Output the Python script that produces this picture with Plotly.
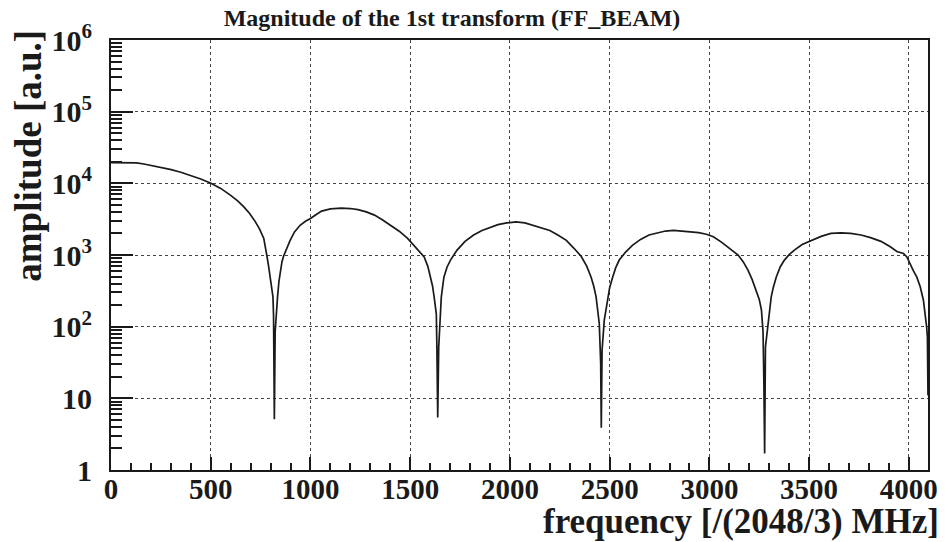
import plotly.graph_objects as go

# Spectrum magnitude of the first transform, sampled along the frequency axis
freq = [0, 64, 128, 165, 202, 250, 302, 350, 401, 450, 501, 550, 600, 635, 666,
        695, 724, 745, 766, 775, 782, 790, 797, 804, 812, 815, 819, 823, 829,
        835, 842, 849, 857, 865, 880, 898, 920, 948, 975, 998, 1031, 1056, 1100,
        1155, 1200, 1238, 1280, 1321, 1360, 1404, 1445, 1487, 1537, 1555, 1570,
        1588, 1603, 1612, 1620, 1631, 1634, 1638, 1643, 1650, 1656, 1669, 1685,
        1702, 1735, 1775, 1818, 1860, 1901, 1940, 1984, 2030, 2075, 2117, 2160,
        2200, 2240, 2283, 2320, 2357, 2385, 2407, 2420, 2432, 2448, 2455, 2458,
        2462, 2473, 2490, 2500, 2515, 2530, 2548, 2580, 2614, 2655, 2697, 2740,
        2780, 2820, 2863, 2905, 2946, 2985, 3020, 3062, 3100, 3144, 3170, 3194,
        3215, 3236, 3250, 3261, 3269, 3273, 3277, 3281, 3293, 3300, 3310, 3320,
        3335, 3355, 3376, 3400, 3426, 3465, 3509, 3560, 3609, 3660, 3708, 3760,
        3808, 3860, 3907, 3940, 3973, 3990, 4023, 4040, 4057, 4073, 4089, 4093,
        4096]
amplitude = [19400, 19400, 19300, 18600, 17800, 16700, 15500, 14300, 12900,
             11500, 10000, 8500, 6800, 5700, 4700,
             3800, 2900, 2300, 1700, 1300, 960, 700, 530, 400, 260, 140, 5.1,
             85, 180,
             260, 430, 610, 800, 960, 1250, 1600, 2100, 2600, 2950, 3200, 3700,
             4100, 4400,
             4500, 4450, 4300, 4000, 3600, 3100, 2600, 2150, 1700, 1200, 1050,
             940,
             700, 490, 370, 260, 150, 49, 5.4, 52, 160, 260, 490, 680,
             850, 1170, 1550, 1900, 2200, 2450, 2650, 2800, 2900, 2800, 2600,
             2400,
             2200, 1900, 1600, 1250, 960, 700, 490, 370, 260, 110, 31, 3.9,
             47, 123, 260, 350, 490, 660, 850, 1100, 1360, 1650, 1900, 2050,
             2160, 2200, 2160, 2100, 2050, 1950, 1800, 1500, 1250, 1000, 800,
             610,
             450, 320, 240, 170, 85, 18, 1.7, 52, 110, 170, 260, 350,
             490, 680, 850, 1010, 1170, 1400, 1600, 1820, 2000, 2030, 2000,
             1900,
             1750, 1550, 1300, 1120, 1050, 940, 600, 490, 360, 234, 100, 72,
             11]

x_ticks = [0, 500, 1000, 1500, 2000, 2500, 3000, 3500, 4000]
y_ticks = [1, 10, 100, 1000, 10000, 100000, 1000000]
y_tick_text = ["1", "10", "10<sup>2</sup>", "10<sup>3</sup>", "10<sup>4</sup>",
               "10<sup>5</sup>", "10<sup>6</sup>"]

SERIF = "Liberation Serif"
INK = "#1a1a1a"

fig = go.Figure()
fig.add_trace(go.Scatter(
    x=freq, y=amplitude, mode="lines",
    line=dict(color=INK, width=1.7),
    hoverinfo="x+y", showlegend=False,
))

fig.update_layout(
    width=950, height=542,
    margin=dict(l=111, r=15, t=40, b=72),
    paper_bgcolor="white", plot_bgcolor="white",
    font=dict(family=SERIF, color=INK),
    title=dict(text="<b>Magnitude of the 1st transform (FF_BEAM)</b>",
               x=452 / 950, xanchor="center", y=1 - 18 / 542, yanchor="middle",
               font=dict(family=SERIF, size=24, color=INK)),
)

fig.update_xaxes(
    range=[0, 4096], tickvals=x_ticks, ticktext=[str(v) for v in x_ticks],
    ticks="inside", ticklen=13, tickwidth=1.5, tickcolor=INK,
    minor=dict(dtick=100, tick0=0, ticks="inside", ticklen=7, tickwidth=1.5,
               tickcolor=INK, showgrid=False),
    showline=True, linewidth=2, linecolor=INK, mirror=True,
    showgrid=True, gridcolor="#444", griddash="dot", gridwidth=1,
    zeroline=False,
    tickfont=dict(family=SERIF, size=29, color=INK, weight="bold"),
    ticklabelstandoff=-8,
)

fig.update_yaxes(
    type="log", range=[0, 6], tickvals=y_ticks, ticktext=y_tick_text,
    ticks="inside", ticklen=22, tickwidth=1.5, tickcolor=INK,
    minor=dict(dtick="D1", ticks="inside", ticklen=11, tickwidth=1.5,
               tickcolor=INK, showgrid=False),
    showline=True, linewidth=2, linecolor=INK, mirror=True,
    showgrid=True, gridcolor="#444", griddash="dot", gridwidth=1,
    zeroline=False,
    tickfont=dict(family=SERIF, size=30, color=INK, weight="bold"),
    ticklabelstandoff=11,
)

# Axis titles placed as in a ROOT canvas: x title right-aligned, y title rotated
fig.add_annotation(
    text="<b>frequency [/(2048/3) MHz]</b>", xref="paper", yref="paper",
    x=1.016, xanchor="right", y=-(521 - 470) / 430, yanchor="middle",
    showarrow=False, font=dict(family=SERIF, size=35, color=INK),
)
fig.add_annotation(
    text="<b>amplitude [a.u.]</b>", xref="paper", yref="paper",
    x=(27 - 111) / 824, xanchor="center", y=1 - (156 - 40) / 430, yanchor="middle",
    textangle=-90, showarrow=False, font=dict(family=SERIF, size=37, color=INK),
)

fig.write_html("out.html")
